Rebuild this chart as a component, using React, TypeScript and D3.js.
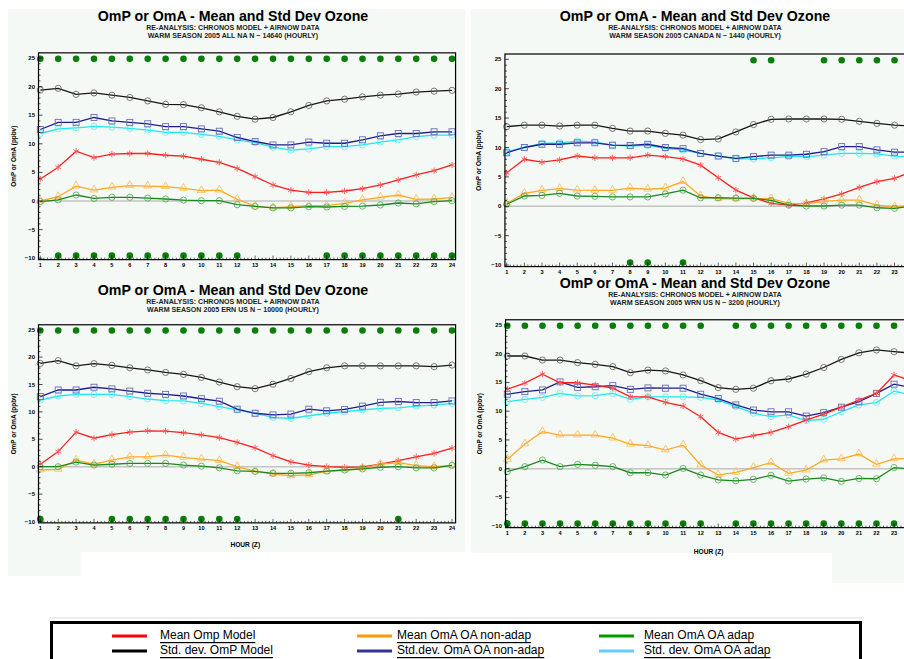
import React from 'react';
import * as d3 from 'd3';

// Hour of day (Z)
const hours = [1, 2, 3, 4, 5, 6, 7, 8, 9, 10, 11, 12, 13, 14, 15, 16, 17, 18, 19, 20, 21, 22, 23, 24];

// ---- ALL NA ----
const naMeanOmp = [3.85, 5.9, 8.7, 7.6, 8.2, 8.3, 8.3, 8.0, 7.85, 7.3, 6.75, 5.7, 4.25, 2.8, 1.9, 1.5, 1.5, 1.75, 2.15, 2.8, 3.7, 4.55, 5.3, 6.3];
const naStdOmp = [19.4, 19.7, 18.65, 18.9, 18.5, 18.1, 17.5, 16.9, 16.85, 16.3, 15.6, 14.8, 14.3, 14.6, 15.6, 16.7, 17.5, 17.8, 18.2, 18.5, 18.7, 19.05, 19.2, 19.35];
const naMeanNonAdap = [0, 0.75, 2.6, 1.9, 2.4, 2.7, 2.6, 2.5, 2.2, 1.8, 1.9, 0.3, -0.9, -1.2, -1.0, -0.8, -0.8, -0.4, 0.2, 0.65, 1.05, 0.3, 0.35, 0.6];
const naStdNonAdap = [12.5, 13.75, 13.75, 14.6, 14.0, 13.75, 13.5, 13.0, 13.0, 12.6, 12.2, 11.1, 10.4, 9.8, 9.8, 10.3, 10.1, 10.1, 10.7, 11.4, 11.8, 11.8, 12.1, 12.1];
const naMeanAdap = [-0.1, 0.2, 1.05, 0.45, 0.65, 0.65, 0.5, 0.35, 0.15, 0.05, 0.05, -0.65, -0.95, -1.2, -1.2, -1.0, -1.05, -0.95, -0.9, -0.7, -0.35, -0.5, -0.1, 0.05];
const naStdAdap = [11.8, 12.6, 12.8, 13.05, 12.9, 12.7, 12.4, 12.0, 12.0, 11.65, 11.3, 10.7, 10.2, 9.4, 8.9, 9.1, 9.5, 9.5, 9.8, 10.3, 10.7, 11.25, 11.5, 11.5];
const naSigTop = [1, 2, 3, 4, 5, 6, 7, 8, 9, 10, 11, 12, 13, 14, 15, 16, 17, 18, 19, 20, 21, 22, 23, 24];
const naSigBottom = [2, 3, 4, 5, 6, 7, 8, 9, 10, 11, 12, 17, 18, 19, 20, 21, 22, 23, 24];

// ---- CANADA ----
const caMeanOmp = [5.7, 8.0, 7.5, 7.9, 8.55, 8.25, 8.25, 8.25, 8.7, 8.45, 8.05, 7.0, 4.85, 2.75, 1.45, 0.5, 0.2, 0.6, 1.25, 2.1, 3.2, 4.2, 4.75, 5.9];
const caStdOmp = [13.55, 13.8, 13.8, 13.65, 13.8, 13.8, 13.25, 12.8, 12.8, 12.4, 12.1, 11.35, 11.45, 12.65, 13.9, 14.8, 14.85, 14.85, 14.85, 14.8, 14.45, 14.1, 13.8, 13.65];
const caMeanNonAdap = [0.5, 2.2, 2.7, 3.0, 2.75, 2.7, 2.7, 3.1, 2.9, 3.1, 4.2, 1.75, 1.25, 1.25, 1.35, 1.3, 0.5, 0.4, 0.85, 1.05, 1.05, 0.2, -0.1, 0.15];
const caStdNonAdap = [9.1, 10.0, 10.55, 10.55, 10.8, 10.8, 10.4, 10.35, 10.55, 10.0, 9.8, 9.0, 8.55, 8.15, 8.45, 8.7, 8.7, 8.85, 9.3, 10.15, 10.15, 9.6, 9.2, 9.2];
const caMeanAdap = [0.35, 1.75, 1.85, 2.2, 1.75, 1.7, 1.6, 1.6, 1.6, 2.1, 2.75, 1.45, 1.45, 1.4, 1.35, 1.0, 0.2, 0.05, 0.05, 0.2, 0.2, -0.25, -0.35, 0.05];
const caStdAdap = [9.3, 10.0, 10.7, 10.8, 11.1, 10.95, 10.4, 10.25, 10.35, 9.85, 9.55, 9.0, 8.55, 8.05, 8.05, 8.25, 8.45, 8.45, 8.7, 9.0, 9.0, 8.9, 8.55, 8.45];
const caSigTop = [15, 16, 19, 20, 21, 22, 23, 24];
const caSigBottom = [8, 9, 11];

// ---- EASTERN US ----
const ernMeanOmp = [0.45, 2.75, 6.3, 5.2, 5.85, 6.3, 6.55, 6.5, 6.2, 5.8, 5.3, 4.45, 3.45, 2.0, 0.9, 0.3, 0, -0.1, -0.05, 0.45, 1.1, 1.8, 2.45, 3.4];
const ernStdOmp = [18.85, 19.35, 18.4, 18.8, 18.5, 18.05, 17.65, 17.2, 16.85, 16.3, 15.45, 14.6, 14.25, 15.05, 16.1, 17.35, 18.05, 18.4, 18.4, 18.4, 18.4, 18.4, 18.25, 18.55];
const ernMeanNonAdap = [-0.6, -0.5, 1.2, 0.45, 1.2, 1.8, 1.8, 2.1, 1.7, 1.4, 1.1, 0, -0.8, -1.35, -1.65, -1.5, -0.85, -0.6, -0.3, 0.45, 0.75, 0.2, 0, 0.25];
const ernStdNonAdap = [12.8, 14.0, 14.0, 14.5, 14.2, 13.8, 13.4, 13.2, 12.9, 12.4, 11.95, 10.5, 9.75, 9.45, 9.6, 10.5, 10.2, 10.45, 11.05, 11.75, 11.9, 11.7, 11.7, 12.0];
const ernMeanAdap = [0, 0, 0.85, 0.3, 0.45, 0.6, 0.6, 0.6, 0.3, 0.1, -0.2, -0.75, -0.85, -1.2, -1.2, -1.1, -0.8, -0.6, -0.4, -0.1, 0, -0.2, -0.2, 0.25];
const ernStdAdap = [12.15, 12.9, 13.2, 13.2, 13.2, 12.8, 12.35, 12.05, 12.0, 11.55, 10.95, 10.35, 9.75, 9.0, 8.8, 9.3, 9.75, 10.05, 10.35, 10.65, 10.75, 11.05, 11.25, 11.55];
const ernSigTop = [1, 2, 3, 4, 5, 6, 7, 8, 9, 10, 11, 12, 13, 14, 15, 16, 17, 18, 19, 20, 21, 22, 23, 24];
const ernSigBottom = [1, 5, 6, 7, 8, 9, 10, 11, 12, 21];

// ---- WESTERN US ----
const wrnMeanOmp = [13.85, 14.9, 16.45, 14.95, 14.95, 14.55, 14.0, 12.5, 12.5, 11.55, 10.9, 9.05, 6.3, 5.15, 5.75, 6.3, 7.3, 8.45, 9.5, 10.7, 11.95, 13.1, 16.3, 15.3];
const wrnStdOmp = [19.6, 19.6, 18.9, 18.9, 18.45, 18.15, 17.75, 16.7, 17.15, 17.0, 16.3, 15.3, 14.1, 13.8, 14.0, 15.3, 15.6, 16.45, 17.6, 19.0, 20.15, 20.65, 20.35, 20.1];
const wrnMeanNonAdap = [1.6, 4.3, 6.45, 5.85, 5.85, 5.85, 5.3, 4.25, 4.0, 3.25, 4.1, 0.65, -1.1, -0.65, 0.2, 1.05, -0.8, -0.25, 1.5, 1.7, 2.55, 0.75, 1.7, 1.8];
const wrnStdNonAdap = [12.95, 13.4, 13.7, 15.1, 14.15, 14.25, 14.45, 13.8, 14.05, 14.0, 14.0, 12.95, 12.2, 11.1, 10.2, 9.9, 9.9, 9.15, 9.75, 10.7, 11.65, 13.1, 14.7, 14.1];
const wrnMeanAdap = [-0.5, 0.35, 1.5, 0.35, 0.75, 0.6, 0.35, -0.7, -0.7, -1.1, 0.05, -1.1, -1.95, -2.1, -1.85, -1.15, -2.15, -1.8, -1.6, -2.2, -1.7, -1.75, 0.2, -0.05];
const wrnStdAdap = [11.65, 12.05, 12.4, 13.1, 12.65, 12.7, 13.1, 12.05, 12.5, 12.5, 12.5, 12.4, 11.95, 10.8, 9.65, 9.05, 9.35, 8.35, 8.6, 9.9, 11.1, 11.5, 13.5, 12.8];
const wrnSigTop = [1, 2, 3, 4, 5, 6, 7, 8, 9, 10, 11, 12, 14, 15, 16, 17, 18, 19, 20, 21, 22, 23, 24];
const wrnSigBottom = [1, 2, 3, 4, 5, 6, 7, 8, 9, 10, 11, 12, 14, 15, 16, 17, 18, 19, 20, 21, 22, 23, 24];

const yTicks = [-10, -5, 0, 5, 10, 15, 20, 25];
const titleText = 'OmP or OmA - Mean and Std Dev Ozone';
const subtitleText = 'RE-ANALYSIS: CHRONOS MODEL + AIRNOW DATA';
const yAxisTitle = 'OmP or OmA  (ppbv)';
const xAxisTitle = 'HOUR  (Z)';

// Rows of significance markers sit just inside the top and bottom of the plot
const SIG_TOP = 24.85;
const SIG_BOTTOM = -9.55;

const WIDTH = 904;
const HEIGHT = 659;

type Marker = 'circle' | 'square' | 'triangle' | 'star';
interface SeriesStyle { key: string; line: string; marker: string; shape: Marker }

const styles: Record<string, SeriesStyle> = {
  stdOmp: { key: 'stdOmp', line: '#151515', marker: '#5a5a5a', shape: 'circle' },
  stdAdap: { key: 'stdAdap', line: '#1fe6ef', marker: '#55eef5', shape: 'circle' },
  stdNonAdap: { key: 'stdNonAdap', line: '#1c1c8c', marker: '#6a6ab8', shape: 'square' },
  meanOmp: { key: 'meanOmp', line: '#ff1c1c', marker: '#ff5555', shape: 'star' },
  meanNonAdap: { key: 'meanNonAdap', line: '#ffa820', marker: '#ffb850', shape: 'triangle' },
  meanAdap: { key: 'meanAdap', line: '#18881c', marker: '#4aa84a', shape: 'circle' },
};
const drawOrder = ['stdOmp', 'stdAdap', 'stdNonAdap', 'meanOmp', 'meanNonAdap', 'meanAdap'];

interface PanelDef {
  id: string;
  subtitle: string;
  series: Record<string, number[]>;
  sigTop: number[];
  sigBottom: number[];
  hour1X: number;
  hourStep: number;
  zeroY: number;
  unit: number;
  titleX: number;
  titleY: number;
  yTitleX: number;
  showXTitle: boolean;
  xTitleY: number;
}

const panels: PanelDef[] = [
  {
    id: 'na', subtitle: 'WARM SEASON 2005 ALL NA N ~ 14640  (HOURLY)',
    series: { meanOmp: naMeanOmp, stdOmp: naStdOmp, meanNonAdap: naMeanNonAdap, stdNonAdap: naStdNonAdap, meanAdap: naMeanAdap, stdAdap: naStdAdap },
    sigTop: naSigTop, sigBottom: naSigBottom,
    hour1X: 40.3, hourStep: 17.9, zeroY: 201, unit: 5.72, titleX: 233, titleY: 16, yTitleX: 13, showXTitle: false, xTitleY: 0,
  },
  {
    id: 'ca', subtitle: 'WARM SEASON 2005 CANADA N ~ 1440  (HOURLY)',
    series: { meanOmp: caMeanOmp, stdOmp: caStdOmp, meanNonAdap: caMeanNonAdap, stdNonAdap: caStdNonAdap, meanAdap: caMeanAdap, stdAdap: caStdAdap },
    sigTop: caSigTop, sigBottom: caSigBottom,
    hour1X: 506.7, hourStep: 17.63, zeroY: 206.3, unit: 5.88, titleX: 695, titleY: 16, yTitleX: 478, showXTitle: false, xTitleY: 0,
  },
  {
    id: 'ern', subtitle: 'WARM SEASON 2005 ERN US N ~ 10000  (HOURLY)',
    series: { meanOmp: ernMeanOmp, stdOmp: ernStdOmp, meanNonAdap: ernMeanNonAdap, stdNonAdap: ernStdNonAdap, meanAdap: ernMeanAdap, stdAdap: ernStdAdap },
    sigTop: ernSigTop, sigBottom: ernSigBottom,
    hour1X: 40.3, hourStep: 17.9, zeroY: 466.7, unit: 5.48, titleX: 233, titleY: 290, yTitleX: 13, showXTitle: true, xTitleY: 544,
  },
  {
    id: 'wrn', subtitle: 'WARM SEASON 2005 WRN US N ~ 3200  (HOURLY)',
    series: { meanOmp: wrnMeanOmp, stdOmp: wrnStdOmp, meanNonAdap: wrnMeanNonAdap, stdNonAdap: wrnStdNonAdap, meanAdap: wrnMeanAdap, stdAdap: wrnStdAdap },
    sigTop: wrnSigTop, sigBottom: wrnSigBottom,
    hour1X: 507.3, hourStep: 17.58, zeroY: 468.7, unit: 5.75, titleX: 695, titleY: 283, yTitleX: 479, showXTitle: true, xTitleY: 551,
  },
];

const legendItems = [
  { label: 'Mean Omp Model', color: '#ff0000', col: 0, row: 0 },
  { label: 'Std. dev. OmP Model', color: '#000000', col: 0, row: 1 },
  { label: 'Mean OmA OA non-adap', color: '#ff9900', col: 1, row: 0 },
  { label: 'Std.dev. OmA OA non-adap', color: '#333399', col: 1, row: 1 },
  { label: 'Mean OmA OA adap', color: '#009900', col: 2, row: 0 },
  { label: 'Std. dev. OmA OA adap', color: '#66ccff', col: 2, row: 1 },
];

const FONT = 'Liberation Sans, Arial, Helvetica, sans-serif';
const BG = '#f4f9f6';

function MarkerShape({ shape, x, y, color }: { shape: Marker; x: number; y: number; color: string }) {
  if (shape === 'circle') return <circle cx={x} cy={y} r={3.1} fill="none" stroke={color} strokeWidth={0.8} />;
  if (shape === 'square') return <rect x={x - 3} y={y - 3} width={6} height={6} fill="none" stroke={color} strokeWidth={0.9} />;
  if (shape === 'triangle') {
    const p = d3.symbol(d3.symbolTriangle, 26)() as string;
    return <path d={p} transform={`translate(${x},${y - 0.4})`} fill="none" stroke={color} strokeWidth={0.8} />;
  }
  const r = 3.2;
  const d = [0, 60, 120].map((a) => {
    const t = (a * Math.PI) / 180 + Math.PI / 2;
    const dx = r * Math.cos(t), dy = r * Math.sin(t);
    return `M${x - dx},${y - dy}L${x + dx},${y + dy}`;
  }).join('');
  return <path d={d} stroke={color} strokeWidth={0.9} fill="none" />;
}

function Panel({ p }: { p: PanelDef }) {
  const xMin = 0.9, xMax = 24.2;
  const yMin = -10.25, yMax = 25.9;
  const x = d3.scaleLinear().domain([xMin, xMax]).range([p.hour1X + (xMin - 1) * p.hourStep, p.hour1X + (xMax - 1) * p.hourStep]);
  const y = d3.scaleLinear().domain([yMin, yMax]).range([p.zeroY - yMin * p.unit, p.zeroY - yMax * p.unit]);
  const [left, right] = x.range();
  const [bottom, top] = y.range();
  const line = d3.line<number>().x((_, i) => x(hours[i])).y((v) => y(v));

  const xMinor = d3.range(1, 24.2, 0.2).filter((v) => v > xMin && v < xMax);
  const yMinor = d3.range(-10, 26, 1);
  // hour labels that would fall past the page edge are left out
  const xLabels = hours.filter((h) => x(h) + 4 < WIDTH);

  return (
    <g>
      <text x={p.titleX} y={p.titleY} textAnchor="middle" dominantBaseline="central" fontFamily={FONT} fontWeight="bold" fontSize={14.2} fill="#000">{titleText}</text>
      <text x={p.titleX} y={p.titleY + 11.5} textAnchor="middle" dominantBaseline="central" fontFamily={FONT} fontWeight="bold" fontSize={7.1} fill="#222">{subtitleText}</text>
      <text x={p.titleX} y={p.titleY + 20} textAnchor="middle" dominantBaseline="central" fontFamily={FONT} fontWeight="bold" fontSize={7.1} fill="#222">{p.subtitle}</text>

      {/* zero reference */}
      <line x1={left} x2={right} y1={y(0)} y2={y(0)} stroke="#c4c4c4" strokeWidth={1.4} />

      {drawOrder.map((k) => {
        const s = styles[k];
        const vals = p.series[k];
        return (
          <g key={k}>
            <path d={line(vals) as string} fill="none" stroke={s.line} strokeWidth={1.3} />
            {vals.map((v, i) => <MarkerShape key={i} shape={s.shape} x={x(hours[i])} y={y(v)} color={s.marker} />)}
          </g>
        );
      })}

      {p.sigTop.map((h) => <circle key={'t' + h} cx={x(h)} cy={y(SIG_TOP)} r={3.3} fill="#0a7d0a" />)}
      {p.sigBottom.map((h) => <circle key={'b' + h} cx={x(h)} cy={y(SIG_BOTTOM)} r={3.3} fill="#0a7d0a" />)}

      {/* frame */}
      <rect x={left} y={top} width={right - left} height={bottom - top} fill="none" stroke="#000" strokeWidth={1.2} />

      {/* y ticks */}
      {yMinor.map((v) => (
        <line key={'ym' + v} x1={left} x2={left + (v % 5 === 0 ? 4 : 2)} y1={y(v)} y2={y(v)} stroke="#000" strokeWidth={0.7} />
      ))}
      {yTicks.map((v) => (
        <text key={'yl' + v} x={left - 3.5} y={y(v)} textAnchor="end" dominantBaseline="central" fontFamily={FONT} fontWeight="bold" fontSize={6} fill="#000">
          {v < 0 ? '\u2212' + Math.abs(v) : String(v)}
        </text>
      ))}

      {/* x ticks */}
      {xMinor.map((v, i) => {
        const major = Math.abs(v - Math.round(v)) < 1e-6;
        return <line key={'xm' + i} x1={x(v)} x2={x(v)} y1={bottom} y2={bottom - (major ? 4 : 2)} stroke="#000" strokeWidth={0.6} />;
      })}
      {xLabels.map((h) => (
        <text key={'xl' + h} x={x(h)} y={bottom + 5.5} textAnchor="middle" dominantBaseline="central" fontFamily={FONT} fontWeight="bold" fontSize={5.6} fill="#000">{h}</text>
      ))}

      <text transform={`translate(${p.yTitleX},${(top + bottom) / 2}) rotate(-90)`} textAnchor="middle" dominantBaseline="central" fontFamily={FONT} fontWeight="bold" fontSize={6.4} fill="#000">{yAxisTitle}</text>
      {p.showXTitle && (
        <text x={(left + x(24)) / 2} y={p.xTitleY} textAnchor="middle" dominantBaseline="central" fontFamily={FONT} fontWeight="bold" fontSize={6.6} fill="#000">{xAxisTitle}</text>
      )}
    </g>
  );
}

function Legend() {
  const colText = [160, 397, 644];
  const colLine = [112, 357, 599];
  const rowY = [635, 650];
  return (
    <g>
      <line x1={49} x2={864} y1={618} y2={618} stroke="#e6e6e6" strokeWidth={1.5} />
      <rect x={51.5} y={622.5} width={809} height={60} fill="#fff" stroke="#000" strokeWidth={3} />
      {legendItems.map((it) => {
        const ty = rowY[it.row];
        return (
          <g key={it.label}>
            <line x1={colLine[it.col]} x2={colLine[it.col] + 35} y1={ty + 1} y2={ty + 1} stroke={it.color} strokeWidth={3} />
            <text x={colText[it.col]} y={ty} dominantBaseline="central" fontFamily={FONT} fontSize={12} fill="#000" textDecoration="underline">{it.label}</text>
          </g>
        );
      })}
    </g>
  );
}

export default function App() {
  return (
    <svg width={WIDTH} height={HEIGHT} style={{ position: 'absolute', left: 0, top: 0, background: '#fff' }}>
      <rect width={WIDTH} height={HEIGHT} fill="#fff" />
      <path d="M8,9H465V552H81V576H8Z" fill={BG} />
      <path d="M471,9H904V583H832V553H471Z" fill={BG} />
      {panels.map((p) => <Panel key={p.id} p={p} />)}
      <Legend />
    </svg>
  );
}
